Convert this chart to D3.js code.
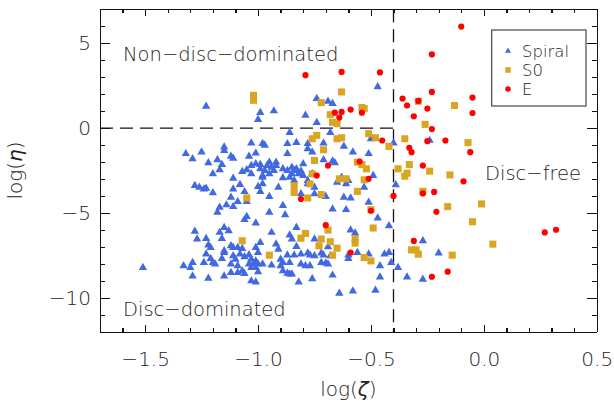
<!DOCTYPE html>
<html lang="en">
<head>
    <meta charset="UTF-8">
    <title>log(eta) vs log(zeta)</title>
    <script src="https://d3js.org/d3.v7.min.js"></script>
    <style>
        body {
            margin: 0;
            padding: 0;
            background: #fff;
        }
        svg {
            display: block;
            font-family: "DejaVu Sans", sans-serif;
            font-weight: 200;
        }
        .axis path,
        .axis line {
            stroke: #111;
            stroke-width: 1.3px;
            shape-rendering: crispEdges;
        }
        .axis text {
            fill: #222;
            font-size: 20px;
            font-family: "DejaVu Sans", sans-serif;
            font-weight: 200;
        }
        .note {
            fill: #222;
            font-size: 19.5px;
        }
    </style>
</head>
<body>
    <svg width="614" height="401"></svg>

    <script>
        // Spiral galaxies [log(zeta), log(eta)]
        const spiral = [
            [-1.23, 1.28], [-0.99, 0.91], [-1.00, 0.50], [-0.93, 1.01], [-0.79, 0.75],
            [-0.74, 0.32], [-0.74, 1.74], [-0.69, 1.58], [-0.67, 1.44], [-0.47, 2.43],
            [-1.32, -1.51], [-1.29, -1.81], [-1.25, -1.42], [-1.22, -2.05], [-1.20, -2.70],
            [-1.18, -1.87], [-1.17, -2.46], [-1.15, -1.12], [-1.15, -1.32], [-1.12, -1.67],
            [-1.11, -1.78], [-1.16, -2.15], [-1.07, -2.56], [-1.05, -2.46], [-1.03, -2.70],
            [-1.03, -2.21], [-1.01, -2.11], [-0.99, -2.15], [-1.11, -2.96], [-1.08, -3.33],
            [-1.26, -3.49], [-1.24, -3.59], [-1.23, -3.55], [-1.20, -3.82], [-1.11, -3.59],
            [-1.06, -3.75], [-1.00, -3.45], [-0.99, -3.75], [-0.98, -2.90], [-1.12, -4.08],
            [-1.03, -0.89], [-0.98, -0.91], [-1.04, -1.67], [-1.01, -1.48], [-1.28, -3.39],
            [-0.86, -0.27], [-0.68, -0.27], [-0.97, -1.02], [-0.87, -0.92], [-0.83, -0.86],
            [-0.78, -0.92], [-0.78, -1.22], [-0.76, -1.42], [-0.71, -0.89], [-0.62, -1.07],
            [-0.58, -1.42], [-0.51, -1.51], [-0.50, -0.63], [-0.87, -1.51], [-0.71, -1.87],
            [-0.67, -1.95], [-0.66, -2.05], [-0.80, -2.11], [-0.95, -2.01], [-0.92, -2.01],
            [-0.92, -2.21], [-0.94, -2.31], [-0.96, -2.21], [-0.97, -2.50], [-0.93, -2.50],
            [-0.95, -2.70], [-0.99, -2.40], [-0.98, -2.80], [-0.89, -2.40], [-0.87, -2.50],
            [-0.85, -2.31], [-0.85, -2.70], [-0.84, -2.50], [-0.83, -2.40], [-0.82, -2.70],
            [-0.81, -2.54], [-0.80, -2.80], [-0.86, -2.90], [-0.89, -2.93], [-0.76, -2.70],
            [-0.78, -3.09], [-0.78, -3.29], [-0.75, -3.49], [-0.65, -3.20], [-0.61, -3.29],
            [-0.60, -3.09], [-0.49, -2.80], [-0.53, -3.49], [-0.62, -4.08], [-0.59, -4.12],
            [-0.98, -3.29], [-0.95, -4.04], [-0.81, -3.88], [-0.75, -3.88], [-0.70, -4.04],
            [-0.40, -0.89], [-0.39, -3.35], [-0.63, -2.90], [-0.91, -3.49], [-0.84, -3.09],
            [-0.24, -0.73],
            [-1.51, -8.22], [-1.33, -8.12], [-1.30, -8.22], [-1.29, -7.93], [-1.29, -8.72],
            [-1.28, -6.09], [-1.27, -6.54], [-1.23, -6.51], [-1.22, -6.90], [-1.21, -7.04],
            [-1.23, -7.43], [-1.24, -7.93], [-1.21, -7.69], [-1.20, -7.93], [-1.19, -8.02],
            [-1.22, -8.85], [-1.15, -8.72], [-1.16, -7.69], [-1.15, -7.34], [-1.15, -7.24],
            [-1.17, -6.15], [-1.16, -6.51], [-1.15, -5.86], [-1.13, -6.05], [-1.18, -4.97],
            [-1.17, -4.67], [-1.14, -4.53], [-1.11, -4.62], [-1.09, -4.34], [-1.05, -4.34],
            [-1.06, -5.40], [-1.05, -5.21], [-1.01, -5.60], [-1.12, -6.94], [-1.11, -7.04],
            [-1.09, -7.04], [-1.07, -7.10], [-1.11, -7.53], [-1.10, -7.73], [-1.08, -7.43],
            [-1.12, -8.02], [-1.09, -8.12], [-1.09, -8.52], [-1.12, -8.52], [-1.06, -7.59],
            [-1.04, -7.47], [-1.03, -7.73], [-1.04, -8.02], [-1.02, -7.98], [-1.01, -7.83],
            [-1.00, -8.02], [-1.03, -8.22], [-1.01, -8.22], [-1.01, -7.04], [-0.99, -6.75],
            [-1.00, -7.34], [-1.07, -8.42], [-1.06, -8.58], [-1.03, -9.01], [-1.01, -9.07],
            [-1.00, -8.48], [-0.98, -8.01],
            [-0.89, -4.57], [-0.95, -4.97], [-0.88, -5.11], [-0.83, -5.86], [-0.94, -6.15],
            [-0.86, -6.31], [-0.83, -6.98], [-0.92, -6.84], [-0.91, -7.14], [-0.69, -7.00],
            [-0.67, -4.77], [-0.61, -4.81], [-0.47, -5.30], [-0.42, -5.76], [-0.59, -6.01],
            [-0.57, -6.19], [-0.75, -6.54], [-0.85, -6.54],
            [-0.87, -7.49], [-0.84, -7.49], [-0.81, -7.43], [-0.78, -7.37], [-0.77, -7.49],
            [-0.75, -7.53], [-0.72, -7.37], [-0.71, -7.49], [-0.68, -7.53], [-0.90, -7.73],
            [-0.89, -7.93], [-0.86, -7.93], [-0.81, -8.02], [-0.79, -8.12], [-0.77, -8.12],
            [-0.72, -7.93], [-0.70, -7.96], [-0.69, -8.02], [-0.94, -8.08], [-0.90, -8.12],
            [-0.89, -8.42], [-0.87, -8.56], [-0.86, -8.60], [-0.85, -8.60], [-0.60, -7.49],
            [-0.56, -7.34], [-0.51, -7.43], [-0.44, -7.43], [-0.42, -7.34], [-0.46, -8.12],
            [-0.41, -7.93], [-0.38, -8.22],
            [-0.82, -9.07], [-0.76, -8.88], [-0.67, -8.67], [-0.64, -9.74], [-0.58, -9.60],
            [-0.48, -9.56], [-0.46, -8.78], [-0.34, -8.78], [-0.27, -8.91], [-0.27, -6.65],
            [-0.20, -7.37], [-0.60, -7.69], [-0.51, -4.38]
        ];

        // S0 galaxies
        const s0 = [
            [-1.02, 1.93], [-1.02, 1.64], [-0.72, 1.50], [-0.63, 2.13], [-0.68, 0.79],
            [-0.54, 1.21], [-0.53, 1.15], [-0.67, 0.34], [-0.65, 0.26], [-0.76, -0.63],
            [-0.74, -0.43], [-0.65, -0.63], [-0.63, -0.57], [-0.71, -1.28], [-0.51, -0.33],
            [-0.48, -0.57], [-0.42, -1.08], [-0.75, -1.91], [-0.56, -2.01], [-0.54, -2.15],
            [-0.52, -2.40], [-0.76, -2.70], [-0.64, -2.99], [-0.61, -2.99], [-0.53, -3.05],
            [-0.77, -3.29], [-0.84, -3.39], [-0.84, -3.79], [-0.72, -3.92], [-0.78, -4.12],
            [-0.56, -3.73], [-1.05, -4.12], [-1.07, -6.64], [-0.95, -7.49], [-0.50, -4.81],
            [-0.49, -5.89], [-0.69, -6.01], [-0.79, -6.21], [-0.81, -6.49], [-0.72, -6.54],
            [-0.68, -6.70], [-0.73, -6.94], [-0.65, -7.08], [-0.67, -7.49], [-0.57, -6.51],
            [-0.57, -6.78], [-0.53, -7.63], [-0.50, -7.83],
            [-0.29, 1.58], [-0.13, 1.33], [-0.26, 0.22], [-0.35, -0.63], [-0.07, -0.86],
            [-0.33, -2.15], [-0.38, -2.40], [-0.24, -2.54], [-0.15, -2.76], [-0.35, -2.84],
            [-0.34, -2.66], [-0.27, -3.73], [-0.16, -4.63], [-0.01, -4.47], [-0.05, -5.52],
            [0.04, -6.84], [-0.14, -7.49], [-0.32, -7.18], [-0.30, -7.18], [-0.29, -7.43]
        ];

        // Elliptical galaxies
        const elliptical = [
            [-0.79, 3.12], [-0.63, 3.31], [-0.46, 3.28], [-0.66, 0.91], [-0.63, 0.95],
            [-0.64, 0.62], [-0.59, 1.09], [-0.54, 0.91], [-0.45, -0.73], [-0.55, -1.97],
            [-0.69, -2.21], [-0.74, -2.80], [-0.51, -2.99], [-0.81, -4.18], [-0.40, -4.00],
            [-0.50, -4.87], [-0.70, -5.72], [-0.59, -7.34],
            [-0.10, 5.98], [-0.23, 4.34], [-0.23, 2.13], [-0.05, 1.80], [-0.36, 1.74],
            [-0.34, 1.33], [-0.29, 1.60], [-0.25, 1.15], [-0.31, 0.69], [-0.05, 0.89],
            [-0.23, -0.06], [-0.25, -0.77], [-0.17, -0.73], [-0.33, -1.16], [-0.32, -1.42],
            [-0.06, -1.42], [-0.27, -2.21], [-0.09, -3.14], [-0.27, -3.85], [-0.22, -3.76],
            [-0.21, -4.93], [0.27, -6.15], [0.32, -5.99], [-0.31, -6.65], [-0.23, -8.76],
            [-0.16, -8.46]
        ];

        const xMajor = [-1.5, -1.0, -0.5, 0.0, 0.5];
        const yMajor = [-10, -5, 0, 5];
        const zetaCut = -0.4;   // vertical dashed line
        const etaCut = 0;       // horizontal dashed line

        const legendItems = [
            { label: "Spiral", symbol: d3.symbolTriangle, color: "#4169E1", size: 16 },
            { label: "S0", symbol: d3.symbolSquare, color: "#DAA520", size: 30 },
            { label: "E", symbol: d3.symbolCircle, color: "#FF0000", size: 24 }
        ];

        const pLeft = 100, pRight = 596.7, pTop = 9.3, pBottom = 331.7;

        const svg = d3.select("svg");

        const x = d3.scaleLinear().domain([-1.7, 0.5]).range([pLeft, pRight]);
        const y = d3.scaleLinear().domain([-12, 7]).range([pBottom, pTop]);

        const xMinor = d3.range(-17, 6).map(d => d / 10);
        const yMinor = d3.range(-12, 8);

        // minor ticks first, then major axes on top
        svg.append("g").attr("class", "axis")
            .attr("transform", `translate(0,${pBottom})`)
            .call(d3.axisBottom(x).tickValues(xMinor).tickSize(-3.5).tickFormat(""))
            .select(".domain").remove();
        svg.append("g").attr("class", "axis")
            .attr("transform", `translate(0,${pTop})`)
            .call(d3.axisTop(x).tickValues(xMinor).tickSize(-3.5).tickFormat(""))
            .select(".domain").remove();
        svg.append("g").attr("class", "axis")
            .attr("transform", `translate(${pLeft},0)`)
            .call(d3.axisLeft(y).tickValues(yMinor).tickSize(-5).tickFormat(""))
            .select(".domain").remove();
        svg.append("g").attr("class", "axis")
            .attr("transform", `translate(${pRight},0)`)
            .call(d3.axisRight(y).tickValues(yMinor).tickSize(-5).tickFormat(""))
            .select(".domain").remove();

        svg.append("g").attr("class", "axis")
            .attr("transform", `translate(0,${pBottom})`)
            .call(d3.axisBottom(x).tickValues(xMajor).tickSize(-7).tickSizeOuter(0)
                .tickPadding(20).tickFormat(d3.format(".1f")));
        svg.append("g").attr("class", "axis")
            .attr("transform", `translate(0,${pTop})`)
            .call(d3.axisTop(x).tickValues(xMajor).tickSize(-7).tickSizeOuter(0).tickFormat(""));
        svg.append("g").attr("class", "axis")
            .attr("transform", `translate(${pLeft},0)`)
            .call(d3.axisLeft(y).tickValues(yMajor).tickSize(-10).tickSizeOuter(0)
                .tickPadding(9).tickFormat(d3.format("d")));
        svg.append("g").attr("class", "axis")
            .attr("transform", `translate(${pRight},0)`)
            .call(d3.axisRight(y).tickValues(yMajor).tickSize(-10).tickSizeOuter(0).tickFormat(""));

        // dashed region lines
        svg.append("line")
            .attr("x1", x(-1.7)).attr("x2", x(zetaCut))
            .attr("y1", y(etaCut)).attr("y2", y(etaCut))
            .attr("stroke", "#111").attr("stroke-width", 1.3)
            .attr("stroke-dasharray", "13,7");
        svg.append("line")
            .attr("x1", x(zetaCut)).attr("x2", x(zetaCut))
            .attr("y1", y(7)).attr("y2", y(-12))
            .attr("stroke", "#111").attr("stroke-width", 1.3)
            .attr("stroke-dasharray", "13,7");

        // points
        const groups = [
            { data: spiral, symbol: d3.symbolTriangle, color: "#4169E1", size: 30 },
            { data: s0, symbol: d3.symbolSquare, color: "#DAA520", size: 50 },
            { data: elliptical, symbol: d3.symbolCircle, color: "#FF0000", size: 30 }
        ];
        groups.forEach(g => {
            svg.append("g").selectAll("path")
                .data(g.data)
                .enter()
                .append("path")
                .attr("transform", d => `translate(${x(d[0])},${y(d[1])})`)
                .attr("d", d3.symbol().type(g.symbol).size(g.size))
                .attr("fill", g.color);
        });

        // region labels
        svg.append("text").attr("class", "note")
            .attr("x", 123).attr("y", 61).text("Non−disc−dominated");
        svg.append("text").attr("class", "note")
            .attr("x", 123).attr("y", 315.7).text("Disc−dominated");
        svg.append("text").attr("class", "note")
            .attr("x", 485).attr("y", 180).text("Disc−free");

        // axis titles, greek letter in italics
        const xTitle = svg.append("text")
            .attr("x", (pLeft + pRight) / 2).attr("y", 396)
            .attr("text-anchor", "middle")
            .attr("fill", "#222").attr("font-size", 20);
        xTitle.append("tspan").text("log(");
        xTitle.append("tspan").attr("font-style", "italic").text("ζ");
        xTitle.append("tspan").text(")");

        const yTitle = svg.append("text")
            .attr("transform", `translate(22,${(pTop + pBottom) / 2}) rotate(-90)`)
            .attr("text-anchor", "middle")
            .attr("fill", "#222").attr("font-size", 20);
        yTitle.append("tspan").text("log(");
        yTitle.append("tspan").attr("font-style", "italic").text("η");
        yTitle.append("tspan").text(")");

        // legend
        const legend = svg.append("g");
        legend.append("rect")
            .attr("x", 491.7).attr("y", 30)
            .attr("width", 94.3).attr("height", 76)
            .attr("fill", "#fff")
            .attr("stroke", "#555").attr("stroke-width", 1.3);
        legendItems.forEach((item, i) => {
            const cy = 51 + i * 19;
            legend.append("path")
                .attr("transform", `translate(508,${cy})`)
                .attr("d", d3.symbol().type(item.symbol).size(item.size))
                .attr("fill", item.color);
            legend.append("text")
                .attr("x", 522).attr("y", cy + 6)
                .attr("fill", "#222").attr("font-size", 16.5)
                .text(item.label);
        });
    </script>
</body>
</html>
